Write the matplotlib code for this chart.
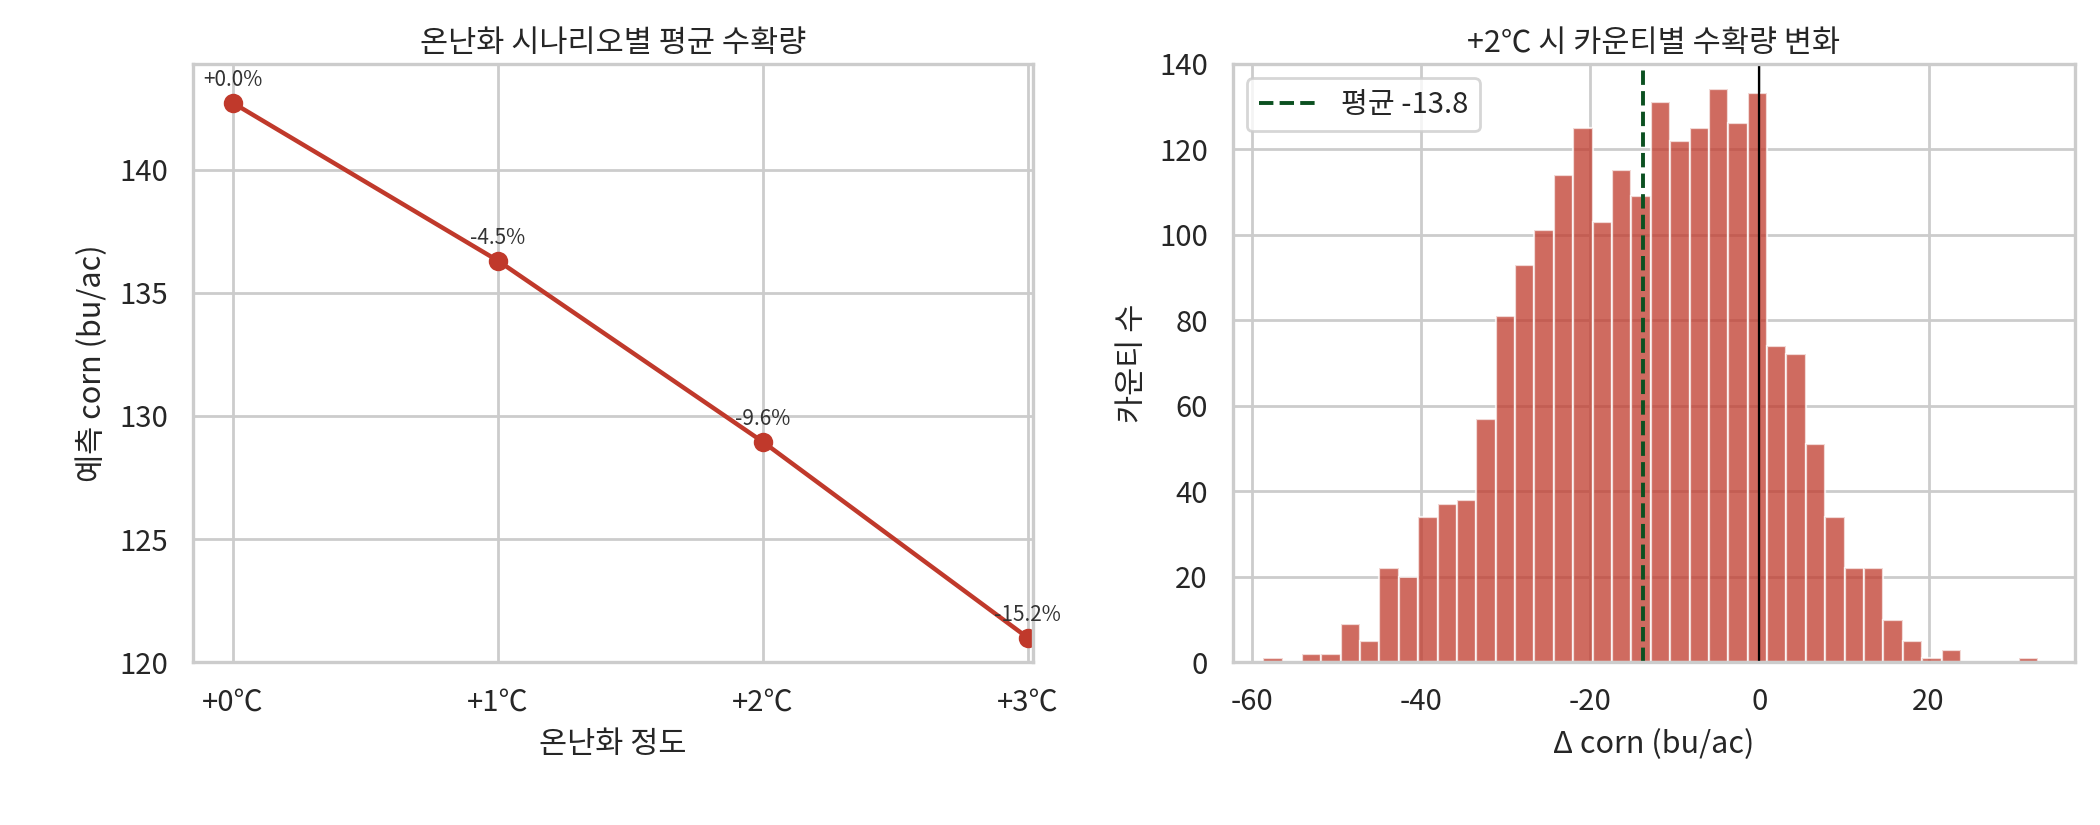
import numpy as np
import matplotlib
matplotlib.use("Agg")
import matplotlib.pyplot as plt
import seaborn as sns

sns.set_theme(style="whitegrid")
plt.rcParams['font.family'] = ['Noto Sans CJK KR', 'DejaVu Sans']
plt.rcParams['axes.unicode_minus'] = False

scenarios = ["+0℃", "+1℃", "+2℃", "+3℃"]
mean_yield = [142.7, 136.3, 128.95, 121.0]
pct_labels = ["+0.0%", "-4.5%", "-9.6%", "-15.2%"]

hist_range = (-58.7, 33.0)
counts = [1, 0, 2, 2, 9, 5, 22, 20, 34, 37, 38, 57, 81, 93, 101, 114, 125, 103, 115, 109,
          131, 122, 125, 134, 126, 133, 74, 72, 51, 34, 22, 22, 10, 5, 1, 3, 0, 0, 0, 1]
mean_delta = -13.8

red = "#c0392b"
fig = plt.figure(figsize=(10.5, 4.125), dpi=200)
ax1 = fig.add_axes([0.092, 0.197, 0.400, 0.726])
ax2 = fig.add_axes([0.587, 0.197, 0.401, 0.726])

x = np.arange(len(scenarios))
ax1.plot(x, mean_yield, color=red, marker="o", lw=1.6, ms=6)
for xi, yi, t in zip(x, mean_yield, pct_labels):
    ax1.annotate(t, (xi, yi), xytext=(0, 6), textcoords="offset points",
                 ha="center", fontsize=7.5, color="#333333")
ax1.set_xticks(x)
ax1.set_xticklabels(scenarios)
ax1.set_xlim(-0.15, 3.02)
ax1.set_ylim(120, 144.3)
ax1.set_yticks([120, 125, 130, 135, 140])
ax1.set_xlabel("온난화 정도", fontsize=11)
ax1.set_ylabel("예측 corn (bu/ac)", fontsize=11)
ax1.set_title("온난화 시나리오별 평균 수확량", fontsize=11, pad=4)
ax1.tick_params(labelsize=10.5, pad=3)

edges = np.linspace(hist_range[0], hist_range[1], len(counts) + 1)
ax2.bar(edges[:-1], counts, width=np.diff(edges), align="edge",
        color=red, alpha=0.75, edgecolor="white", linewidth=0.8)
ax2.axvline(mean_delta, color="#0b5020", ls="--", lw=1.4, label=f"평균 {mean_delta:.1f}")
ax2.axvline(0, color="black", lw=0.8)
ax2.set_ylim(0, 140)
ax2.set_xlim(-62.3, 37.3)
ax2.set_xlabel("Δ corn (bu/ac)", fontsize=11)
ax2.set_ylabel("카운티 수", fontsize=11)
ax2.set_title("+2℃ 시 카운티별 수확량 변화", fontsize=11, pad=4)
ax2.tick_params(labelsize=10.5, pad=3)
ax2.legend(loc="upper left", fontsize=10.5)

for ax in (ax1, ax2):
    for s in ax.spines.values():
        s.set_color("#cccccc")
        s.set_linewidth(1.2)

fig.savefig("out.png", dpi=200)
